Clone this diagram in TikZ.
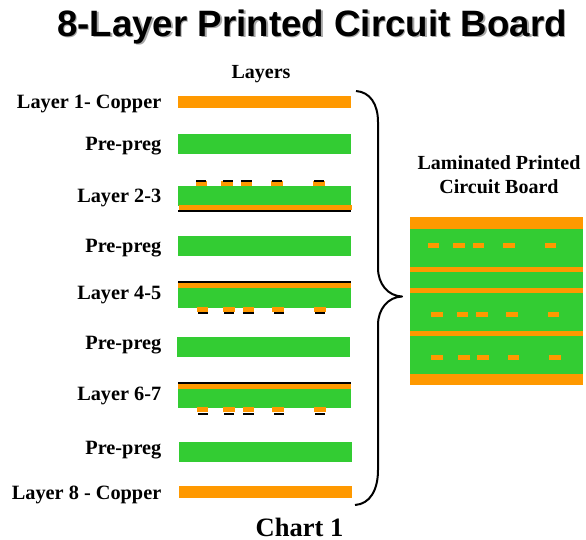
\documentclass[tikz,border=0pt]{standalone}
\usepackage{fontspec}
\setmainfont{Liberation Serif}
\newfontfamily\titlefont{Liberation Sans}
\usepackage{xcolor}
\definecolor{copperc}{HTML}{FF9900}
\definecolor{prepregc}{HTML}{33CC33}
\usetikzlibrary{positioning}

\begin{document}
\begin{tikzpicture}[
  x=1pt, y=-1pt,
  sheet/.style={inner sep=0pt, outer sep=0pt, minimum width=173pt},
  copper/.style={sheet, fill=copperc, minimum height=12pt},
  prepreg/.style={sheet, fill=prepregc, minimum height=20pt},
  foil/.style={sheet, fill=copperc, minimum height=5pt},
  film/.style={sheet, fill=black, minimum height=2pt},
  trace/.style={inner sep=0pt, outer sep=0pt, fill=copperc, minimum width=11.5pt, minimum height=5pt},
  tfilm/.style={inner sep=0pt, outer sep=0pt, fill=black, minimum width=10.5pt, minimum height=2pt},
  lbl/.style={font=\fontsize{20.3}{24}\selectfont\bfseries, anchor=east, inner sep=0pt},
  head/.style={font=\fontsize{20}{24}\selectfont\bfseries, align=center, inner sep=0pt}
]
\useasboundingbox (0,0) rectangle (586,539);

% Title
\node[font=\titlefont\fontsize{36.7}{42}\selectfont\bfseries, text=black!35, inner sep=0pt] (shadow) at (313.5,28.5) {8-Layer Printed Circuit Board};
\node[font=\titlefont\fontsize{36.7}{42}\selectfont\bfseries, inner sep=0pt] (title) at (312,27) {8-Layer Printed Circuit Board};
\node[head] (layers) at (261,74) {Layers};

% Labels
\node[lbl] (l1)  at (161.5,104) {Layer 1- Copper};
\node[lbl] (p1)  at (161.5,146) {Pre-preg};
\node[lbl] (l23) at (161.5,198) {Layer 2-3};
\node[lbl] (p2)  at (161.5,248) {Pre-preg};
\node[lbl] (l45) at (161.5,295) {Layer 4-5};
\node[lbl] (p3)  at (161.5,345) {Pre-preg};
\node[lbl] (l67) at (161.5,396) {Layer 6-7};
\node[lbl] (p4)  at (161.5,450) {Pre-preg};
\node[lbl] (l8)  at (161.5,495) {Layer 8 - Copper};

% Stack
\node[copper]  (c1) at (264.5,102) {};
\node[prepreg] (g1) at (264.5,144) {};
\node[prepreg] (g2) at (264.5,196) {};
\node[foil]    (f2) at (265.5,207.5) {};
\node[film]    (k2) at (264.5,211) {};
\node[prepreg] (g3) at (264.5,246) {};
\node[film]    (k4) at (264.5,282) {};
\node[foil]    (f4) at (264.5,285.5) {};
\node[prepreg] (g4) at (264.5,298) {};
\node[prepreg] (g5) at (263.5,347) {};
\node[film]    (k6) at (264.5,383) {};
\node[foil]    (f6) at (264.5,386.5) {};
\node[prepreg, minimum height=19pt] (g6) at (264.5,398.5) {};
\node[prepreg] (g7) at (265.5,452) {};
\node[copper]  (c8) at (265.5,492) {};

% Etched traces
\foreach \xa/\xb in {201.5/201,227/228,246.5/246.5,277/277,319/319} {
  \node[trace] at (\xa,183.5) {};
  \node[tfilm] at (\xb,180.5) {};
}
\foreach \xa/\xb in {202.5/203,229/229,248.5/248.5,278/279,320/320} {
  \node[trace] at (\xa,309.5) {};
  \node[tfilm] at (\xb,313) {};
  \node[trace] at (\xa,409.5) {};
  \node[tfilm] at (\xb,414) {};
}

% Laminated board
\node[head] (lam) at (499,175) {Laminated Printed\\Circuit Board};
\node[sheet, fill=prepregc, minimum width=173pt, minimum height=168pt] (board) at (496.5,301) {};
\node[sheet, fill=copperc, minimum width=173pt, minimum height=12pt] (btop) at (496.5,223) {};
\node[sheet, fill=copperc, minimum width=173pt, minimum height=11pt] (bbot) at (496.5,379.5) {};
\node[foil] (b1) at (496.5,269.5) {};
\node[foil] (b2) at (496.5,290.5) {};
\node[foil] (b3) at (496.5,333.5) {};
\foreach \x in {433.5,459,478.5,509,550.5} \node[trace] at (\x,245.5) {};
\foreach \x in {437,462.5,482,512,553.5} \node[trace] at (\x,314.5) {};
\foreach \x in {437,464,483,513.5,555} \node[trace] at (\x,357.5) {};

% Brace
\draw[line width=2pt, line join=round] (356,91) .. controls (370,92) and (378,104) .. (378,122)
  -- (378,268) .. controls (378,284) and (388,296) .. (402,296.5)
  .. controls (388,297) and (378,309) .. (378,325)
  -- (378,470) .. controls (378,490) and (370,504) .. (355,505);

\node[font=\fontsize{26.5}{30}\selectfont\bfseries, inner sep=0pt] (chart) at (299.5,527) {Chart 1};
\end{tikzpicture}
\end{document}
